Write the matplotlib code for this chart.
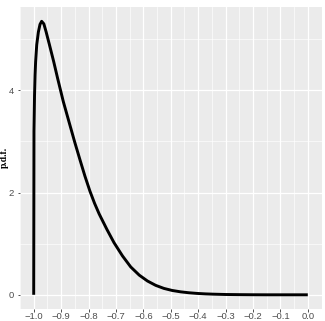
import numpy as np
import matplotlib
matplotlib.use("Agg")
import matplotlib.pyplot as plt
from matplotlib.ticker import MultipleLocator

# points
x_vals = [-1.000, -0.999, -0.997, -0.995, -0.993, -0.989, -0.983, -0.977, -0.971,
          -0.963, -0.955, -0.943, -0.927, -0.913, -0.892, -0.870, -0.850, -0.830,
          -0.813, -0.795, -0.778, -0.761, -0.733, -0.707, -0.676, -0.646, -0.615,
          -0.585, -0.555, -0.525, -0.495, -0.464, -0.434, -0.404, -0.374, -0.343,
          -0.300, -0.250, -0.200, -0.150, -0.100, -0.050, 0.000]
pdf_vals = [0.0, 3.2, 3.9, 4.3, 4.56, 4.89, 5.14, 5.29, 5.35,
            5.30, 5.15, 4.90, 4.56, 4.24, 3.78, 3.36, 2.98, 2.62,
            2.32, 2.03, 1.79, 1.58, 1.28, 1.02, 0.76, 0.545, 0.385,
            0.27, 0.185, 0.125, 0.085, 0.058, 0.04, 0.027, 0.018, 0.012,
            0.006, 0.003, 0.001, 0.0, 0.0, 0.0, 0.0]

x_ticks = [-1.0, -0.9, -0.8, -0.7, -0.6, -0.5, -0.4, -0.3, -0.2, -0.1, 0.0]
y_ticks = [0, 2, 4]

plt.rcParams["font.family"] = ["Liberation Sans", "DejaVu Sans"]

fig = plt.figure(figsize=(3.25, 3.21), dpi=100)
ax = fig.add_axes([20 / 325, 1 - 308.5 / 321, 301.5 / 325, 301.5 / 321])
ax.set_facecolor("#EBEBEB")
for s in ax.spines.values():
    s.set_visible(False)

ax.set_xlim(-1.05, 0.05)
ax.set_ylim(-0.268, 5.63)
ax.set_xticks(x_ticks)
ax.set_xticklabels(["\u2212%.1f" % abs(v) if v < 0 else "%.1f" % v for v in x_ticks])
ax.set_yticks(y_ticks)
ax.xaxis.set_minor_locator(MultipleLocator(0.05))
ax.yaxis.set_minor_locator(MultipleLocator(1))

ax.grid(which="major", color="white", linewidth=0.9)
ax.grid(which="minor", color="white", linewidth=0.45)
ax.set_axisbelow(True)

ax.tick_params(which="major", length=1.8, width=0.6, color="#333333",
               labelsize=6.8, labelcolor="#4D4D4D")
ax.tick_params(axis="x", pad=1.0)
ax.tick_params(axis="y", pad=2.8)
ax.tick_params(which="minor", length=0)

ax.plot(x_vals, pdf_vals, color="black", linewidth=2.1,
        solid_capstyle="butt", solid_joinstyle="round")

ax.set_ylabel("p.d.f.", family="Liberation Serif", fontweight="bold", fontsize=7)
ax.yaxis.set_label_coords((8.5 - 20) / 301.5, 0.5)

fig.savefig("out.png", dpi=100)
